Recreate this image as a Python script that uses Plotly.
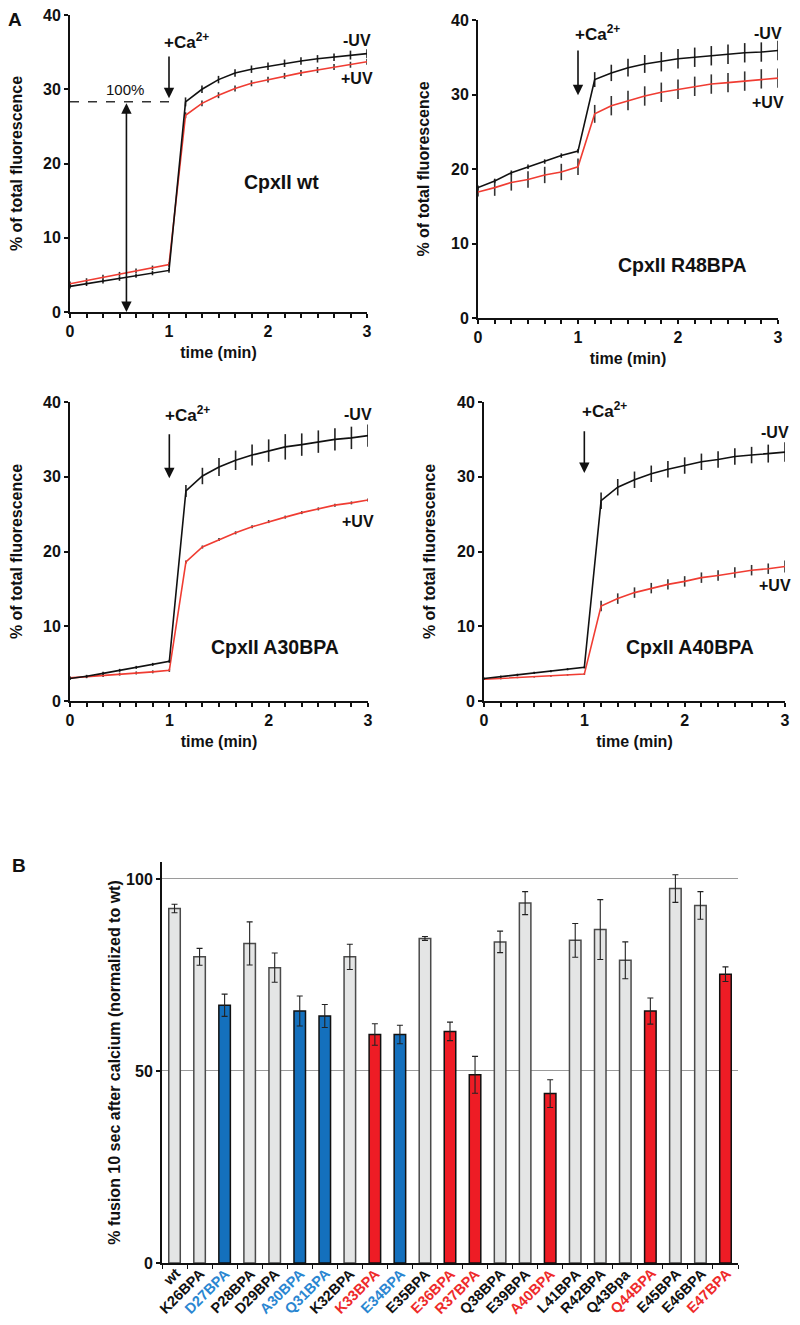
import plotly.graph_objects as go

# ---------------- DATA ----------------
time_min = [0, 0.167, 0.333, 0.5, 0.667, 0.833, 1.0, 1.167, 1.333, 1.5, 1.667,
            1.833, 2.0, 2.167, 2.333, 2.5, 2.667, 2.833, 3.0]

wt_minus = [3.45, 3.8, 4.15, 4.5, 4.9, 5.25, 5.6, 28.3, 30.0, 31.3, 32.2, 32.7, 33.1, 33.5, 33.8, 34.1, 34.3, 34.6, 34.8]
wt_minus_err = [0.3, 0.3, 0.3, 0.3, 0.3, 0.3, 0.3, 0.6, 0.5, 0.5, 0.5, 0.5, 0.5, 0.5, 0.5, 0.5, 0.5, 0.6, 0.6]
wt_plus = [3.8, 4.25, 4.7, 5.1, 5.55, 5.95, 6.4, 26.5, 28.1, 29.2, 30.1, 30.8, 31.3, 31.8, 32.2, 32.6, 33.0, 33.3, 33.7]
wt_plus_err = [0.3, 0.3, 0.3, 0.3, 0.3, 0.3, 0.3, 0.4, 0.4, 0.4, 0.4, 0.4, 0.4, 0.4, 0.4, 0.4, 0.4, 0.4, 0.4]

r48_minus = [17.5, 18.4, 19.5, 20.3, 21.0, 21.8, 22.4, 32.0, 32.9, 33.6, 34.1, 34.4, 34.8, 35.0, 35.2, 35.4, 35.6, 35.7, 35.9]
r48_minus_err = [0.3, 0.3, 0.3, 0.3, 0.3, 0.3, 0.3, 1.0, 1.1, 1.2, 1.2, 1.3, 1.3, 1.3, 1.3, 1.3, 1.3, 1.3, 1.3]
r48_plus = [16.9, 17.5, 18.2, 18.6, 19.2, 19.6, 20.3, 27.4, 28.5, 29.2, 29.8, 30.3, 30.7, 31.1, 31.4, 31.6, 31.8, 32.1, 32.2]
r48_plus_err = [0.6, 1.1, 1.1, 1.1, 1.1, 1.1, 1.1, 1.2, 1.3, 1.3, 1.3, 1.3, 1.3, 1.3, 1.3, 1.3, 1.3, 1.3, 1.3]

a30_minus = [3.0, 3.3, 3.7, 4.1, 4.5, 4.9, 5.3, 28.1, 30.1, 31.3, 32.2, 32.9, 33.5, 34.0, 34.3, 34.7, 35.0, 35.2, 35.5]
a30_minus_err = [0.2, 0.2, 0.2, 0.2, 0.2, 0.2, 0.2, 0.8, 1.1, 1.2, 1.3, 1.4, 1.5, 1.7, 1.5, 1.5, 1.5, 1.5, 1.5]
a30_plus = [3.1, 3.25, 3.4, 3.6, 3.75, 3.9, 4.1, 18.6, 20.6, 21.6, 22.5, 23.3, 24.0, 24.6, 25.2, 25.7, 26.2, 26.5, 26.9]
a30_plus_err = [0.2, 0.2, 0.2, 0.2, 0.2, 0.2, 0.2, 0.2, 0.2, 0.2, 0.2, 0.2, 0.2, 0.2, 0.2, 0.2, 0.2, 0.2, 0.2]

a40_minus = [3.0, 3.25, 3.5, 3.75, 4.0, 4.25, 4.5, 26.8, 28.6, 29.6, 30.4, 31.0, 31.5, 32.0, 32.3, 32.7, 32.9, 33.1, 33.3]
a40_minus_err = [0.15, 0.15, 0.15, 0.15, 0.15, 0.15, 0.15, 1.1, 1.1, 1.1, 1.1, 1.1, 1.1, 1.1, 1.1, 1.1, 1.1, 1.2, 1.3]
a40_plus = [2.9, 3.0, 3.15, 3.25, 3.35, 3.5, 3.6, 12.7, 13.7, 14.5, 15.1, 15.6, 16.0, 16.5, 16.8, 17.2, 17.5, 17.7, 18.0]
a40_plus_err = [0.1, 0.1, 0.1, 0.1, 0.1, 0.1, 0.1, 0.7, 0.7, 0.7, 0.7, 0.7, 0.7, 0.7, 0.7, 0.7, 0.7, 0.7, 0.8]

panel_names = ["CpxII wt", "CpxII R48BPA", "CpxII A30BPA", "CpxII A40BPA"]
time_ticks = [0, 1, 2, 3]
fluor_ticks = [0, 10, 20, 30, 40]

mutants = ["wt", "K26BPA", "D27BPA", "P28BPA", "D29BPA", "A30BPA", "Q31BPA", "K32BPA",
           "K33BPA", "E34BPA", "E35BPA", "E36BPA", "R37BPA", "Q38BPA", "E39BPA", "A40BPA",
           "L41BPA", "R42BPA", "Q43Bpa", "Q44BPA", "E45BPA", "E46BPA", "E47BPA"]
fusion = [92.3, 79.7, 67.1, 83.2, 76.9, 65.6, 64.3, 79.7, 59.5, 59.5, 84.5, 60.3, 49.0,
          83.6, 93.7, 44.1, 84.0, 86.8, 78.8, 65.6, 97.5, 93.1, 75.2]
fusion_err = [1.1, 2.2, 2.9, 5.6, 3.8, 3.9, 3.0, 3.3, 2.8, 2.4, 0.5, 2.4, 4.8,
              2.8, 3.0, 3.6, 4.4, 7.8, 4.8, 3.4, 3.6, 3.6, 1.9]
group = ["n", "n", "b", "n", "n", "b", "b", "n", "r", "b", "n", "r", "r",
         "n", "n", "r", "n", "n", "n", "r", "n", "n", "r"]
fusion_ticks = [0, 50, 100]

# ---------------- STYLE ----------------
OFF = 8                      # page body margin of the html page
W, H = 800 - 2 * OFF, 1325 - 2 * OFF
FONT = "Arial, 'Liberation Sans', Helvetica, sans-serif"
BLACK_LINE = "#111111"
RED_LINE = "#f03c32"
BAR_FILL = {"n": "#e4e5e5", "b": "#1470bd", "r": "#ee1c25"}
BAR_EDGE = {"n": "#4a4a4a", "b": "#111111", "r": "#111111"}
LABEL_COL = {"n": "#111111", "b": "#2a86d1", "r": "#ee2a2a"}


def px(x):
    return (x - OFF) / W


def py(y):
    return 1 - (y - OFF) / H


def xdom(x0, x1):
    return [px(x0), px(x1)]


def ydom(top, bottom):
    return [py(bottom), py(top)]


fig = go.Figure()

panels = [
    (wt_minus, wt_minus_err, wt_plus, wt_plus_err),
    (r48_minus, r48_minus_err, r48_plus, r48_plus_err),
    (a30_minus, a30_minus_err, a30_plus, a30_plus_err),
    (a40_minus, a40_minus_err, a40_plus, a40_plus_err),
]
domains = [
    (xdom(70, 367), ydom(15, 312)),
    (xdom(478, 778), ydom(20, 318)),
    (xdom(70, 368), ydom(402, 701)),
    (xdom(484, 785), ydom(402, 701)),
]

for i, (m, me, p, pe) in enumerate(panels):
    n = i + 1
    xa = "x" if n == 1 else f"x{n}"
    ya = "y" if n == 1 else f"y{n}"
    fig.add_trace(go.Scatter(
        x=time_min, y=p, mode="lines", xaxis=xa, yaxis=ya,
        line=dict(color=RED_LINE, width=1.6), cliponaxis=False,
        error_y=dict(type="data", array=pe, visible=True, color="#333333", thickness=1.6, width=0),
        showlegend=False))
    fig.add_trace(go.Scatter(
        x=time_min, y=m, mode="lines", xaxis=xa, yaxis=ya,
        line=dict(color=BLACK_LINE, width=1.6), cliponaxis=False,
        error_y=dict(type="data", array=me, visible=True, color="#222222", thickness=1.6, width=0),
        showlegend=False))

# Panel B bars
fig.add_trace(go.Bar(
    x=mutants, y=fusion, xaxis="x5", yaxis="y5", width=0.46,
    marker=dict(color=[BAR_FILL[g] for g in group],
                line=dict(color=[BAR_EDGE[g] for g in group], width=1.5)),
    error_y=dict(type="data", array=fusion_err, visible=True, color="#222222", thickness=1.1, width=3),
    showlegend=False))

layout = dict(
    template="none",
    width=W, height=H, margin=dict(l=0, r=0, t=0, b=0, pad=0, autoexpand=False),
    paper_bgcolor="white", plot_bgcolor="white",
    font=dict(family=FONT, size=16, color="#111111"),
)

tick_font = dict(family=FONT, size=16, color="#111111", weight="bold")
title_font = dict(family=FONT, size=16, color="#111111", weight="bold")

for i, (xd, yd) in enumerate(domains):
    n = i + 1
    xk = "xaxis" if n == 1 else f"xaxis{n}"
    yk = "yaxis" if n == 1 else f"yaxis{n}"
    ya_ref = "y" if n == 1 else f"y{n}"
    xa_ref = "x" if n == 1 else f"x{n}"
    layout[xk] = dict(
        domain=xd, anchor=ya_ref, range=[0, 3], tickvals=time_ticks, automargin=False,
        ticklabeloverflow="allow",
        showgrid=False, zeroline=False, showline=True, linecolor="#111111", linewidth=2,
        ticks="outside", ticklen=4, tickwidth=1.5, tickcolor="#111111",
        minor=dict(dtick=1 / 6, tick0=0, ticks="outside", ticklen=4, tickwidth=1.5, tickcolor="#111111"),
        tickfont=tick_font,
        title=dict(text="time (min)", font=title_font, standoff=8),
    )
    layout[yk] = dict(
        domain=yd, anchor=xa_ref, range=[0, 40], tickvals=fluor_ticks, automargin=False,
        ticklabeloverflow="allow",
        showgrid=False, zeroline=False, showline=True, linecolor="#111111", linewidth=2,
        ticks="outside", ticklen=4, tickwidth=1.5, tickcolor="#111111",
        tickfont=tick_font,
        title=dict(text="% of total fluorescence", font=title_font, standoff=17),
    )

layout["xaxis5"] = dict(
    domain=xdom(162, 738), anchor="y5", type="category", automargin=False,
    range=[-0.5, len(mutants) - 0.5], showticklabels=False,
    showgrid=False, zeroline=False, showline=True, linecolor="#111111", linewidth=2,
    ticks="outside", ticklen=4, tickwidth=1, tickcolor="#111111", tickson="boundaries",
)
layout["yaxis5"] = dict(
    domain=ydom(862, 1263), anchor="x5", range=[0, 104.4], tickvals=fusion_ticks, automargin=False,
    ticklabeloverflow="allow",
    showgrid=True, gridcolor="#9a9a9a", gridwidth=1, zeroline=False,
    showline=True, linecolor="#111111", linewidth=2,
    ticks="outside", ticklen=4, tickwidth=1.5, tickcolor="#111111",
    tickfont=dict(family=FONT, size=16, color="#111111", weight="bold"),
    title=dict(text="% fusion 10 sec after calcium (normalized to wt)",
               font=dict(family=FONT, size=16, color="#111111", weight="bold"), standoff=1),
)

fig.update_layout(**layout)

# ---------------- ANNOTATIONS ----------------
ann = []
bold = dict(family=FONT, color="#111111", weight="bold")

ann.append(dict(xref="paper", yref="paper", x=px(15), y=py(20), text="A", showarrow=False,
                xanchor="center", yanchor="middle", font=dict(bold, size=19)))
ann.append(dict(xref="paper", yref="paper", x=px(19), y=py(865), text="B", showarrow=False,
                xanchor="center", yanchor="middle", font=dict(bold, size=19)))

ca_pos = [  # (text left x, text bottom y, arrow start y, arrow tip y)
    (0.93, 34.8, 34.6, 28.8),
    (0.95, 36.5, 36.1, 29.9),
    (0.94, 36.6, 35.9, 29.8),
    (0.96, 37.2, 36.3, 30.5),
]
name_pos = [(2.14, 17.5), (2.04, 7.1), (2.06, 7.2), (2.05, 7.2)]
minus_pos = [36.6, 38.2, 38.3, 35.9]
plus_pos = [31.5, 28.9, 24.0, 15.5]

for i in range(4):
    n = i + 1
    xr = "x" if n == 1 else f"x{n}"
    yr = "y" if n == 1 else f"y{n}"
    tx, ty, a0, a1 = ca_pos[i]
    ann.append(dict(xref=xr, yref=yr, x=tx, y=ty, text="+Ca<sup>2+</sup>", showarrow=False,
                    xanchor="left", yanchor="bottom", font=dict(bold, size=17)))
    ann.append(dict(xref=xr, yref=yr, x=1.0, y=a1, ax=1.0, ay=a0, axref=xr, ayref=yr,
                    text="", showarrow=True, arrowhead=2, arrowsize=1.3, arrowwidth=1.6,
                    arrowcolor="#111111"))
    ann.append(dict(xref=xr, yref=yr, x=name_pos[i][0], y=name_pos[i][1], text=panel_names[i],
                    showarrow=False, xanchor="center", yanchor="middle", font=dict(bold, size=19.5)))
    ann.append(dict(xref=xr, yref=yr, x=2.9, y=minus_pos[i], text="-UV", showarrow=False,
                    xanchor="center", yanchor="middle", font=dict(bold, size=16)))
    ann.append(dict(xref=xr, yref=yr, x=2.9, y=plus_pos[i], text="+UV", showarrow=False,
                    xanchor="center", yanchor="middle", font=dict(bold, size=16)))

ann.append(dict(xref="x", yref="y", x=0.56, y=28.6, text="100%", showarrow=False,
                xanchor="center", yanchor="bottom", font=dict(family=FONT, size=15, color="#111111")))
ann.append(dict(xref="x", yref="y", x=0.57, y=0.0, ax=0.57, ay=28.3, axref="x", ayref="y",
                text="", showarrow=True, arrowhead=2, startarrowhead=2, arrowside="end+start",
                arrowsize=1.3, startarrowsize=1.3, arrowwidth=1.6, arrowcolor="#111111"))

# rotated, coloured category labels for panel B
for name, g in zip(mutants, group):
    ann.append(dict(xref="x5", yref="y5", x=name, y=0, text=name, textangle=-45,
                    showarrow=False, xanchor="right", yanchor="top", xshift=10, yshift=-1,
                    borderpad=0,
                    font=dict(family=FONT, size=14.5, color=LABEL_COL[g], weight="bold")))

fig.update_layout(annotations=ann)
fig.add_shape(type="line", xref="x", yref="y", x0=0, x1=1.02, y0=28.3, y1=28.3,
              line=dict(color="#333333", width=1.5, dash="dash"))

fig.write_html("out.html")
